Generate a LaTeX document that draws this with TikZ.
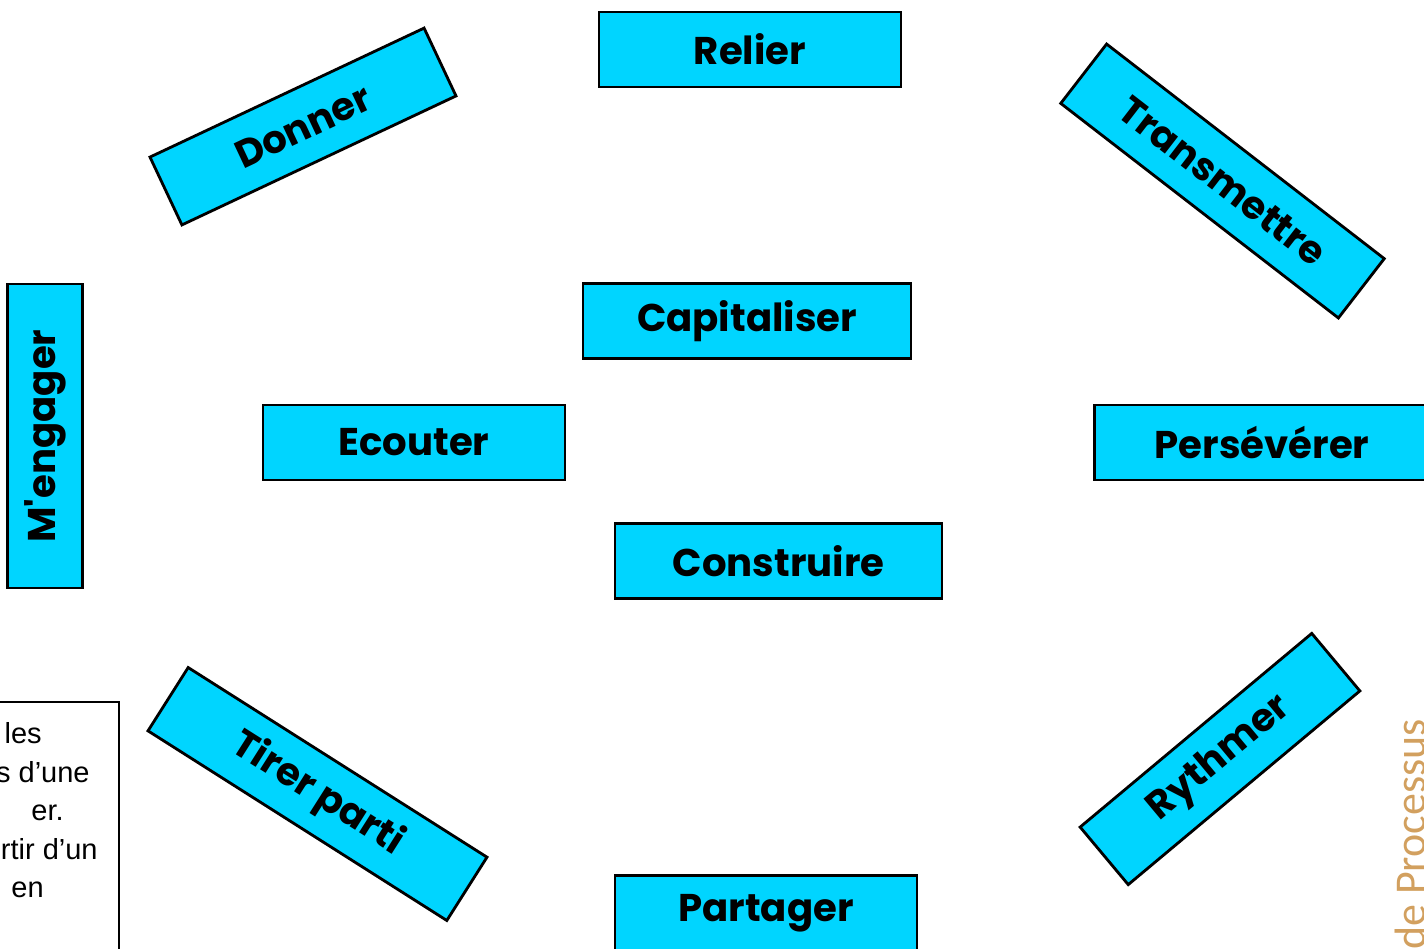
\documentclass[tikz,border=0pt]{standalone}
\usepackage{fontspec}
\setmainfont{Liberation Sans}
\newfontfamily\verbfont{Poppins}
\newfontfamily\markfont{Carlito}
\usetikzlibrary{positioning}
\definecolor{VerbCyan}{RGB}{0,213,255}
\definecolor{MarkTan}{RGB}{210,160,95}

\begin{document}
\begin{tikzpicture}[x=0.02cm, y=-0.02cm,
          verb/.style={rectangle, draw=black, fill=VerbCyan, line width=1.6pt,
                       minimum height=1.5cm, inner sep=0pt,
                       font=\verbfont\bfseries\fontsize{22}{26}\selectfont},
          noteline/.style={anchor=base east, inner sep=0pt,
                       font=\fontsize{16.5}{20}\selectfont}
        ]
        \useasboundingbox (0,0) rectangle (1424,948);
        \clip (0,0) rectangle (1424,948);

        % Centre column
        \node[verb, minimum width=6.04cm] (relier) at (750,49.5) {Relier};
        \node[verb, minimum width=6.56cm] (capitaliser) at (747,321) {Capitaliser};
        \node[verb, minimum width=6.54cm] (construire) at (778.5,561) {Construire};
        \node[verb, minimum width=6.04cm] (partager) at (766,913) {Partager};

        % Left and right
        \node[verb, minimum width=6.04cm] (ecouter) at (414,442.5) {Ecouter};
        \node[verb, minimum width=6.70cm] (perseverer) at (1262,442.5) {Persévérer};
        \node[verb, minimum width=6.08cm, rotate=90] (engager) at (45,436) {M'engager};

        % Tilted boxes
        \node[verb, minimum width=6.06cm, rotate=25.2] (donner) at (303,126.5) {Donner};
        \node[verb, minimum width=7.02cm, rotate=-37.7] (transmettre) at (1222.5,181) {Transmettre};
        \node[verb, minimum width=7.08cm, rotate=-32.4] (tirer) at (317.5,794) {Tirer parti};
        \node[verb, minimum width=6.04cm, rotate=39.9] (rythmer) at (1220,759) {Rythmer};

        % Note box, cut by the left edge
        \draw[line width=0.6pt] (-300,702) -- (119,702) -- (119,1000);
        \node[noteline] (n1) at (42,743) {les};
        \node[noteline] (n2) at (90,782) {s d’une};
        \node[noteline] (n3) at (64,820) {er.};
        \node[noteline] (n4) at (98,859) {rtir d’un};
        \node[noteline] (n5) at (44,897) {en};

        % Side mark
        \node[anchor=base west, inner sep=0pt, rotate=90, text=MarkTan,
              font=\markfont\fontsize{25}{30}\selectfont] (mark) at (1425,950) {de Processus};
      \end{tikzpicture}
\end{document}
